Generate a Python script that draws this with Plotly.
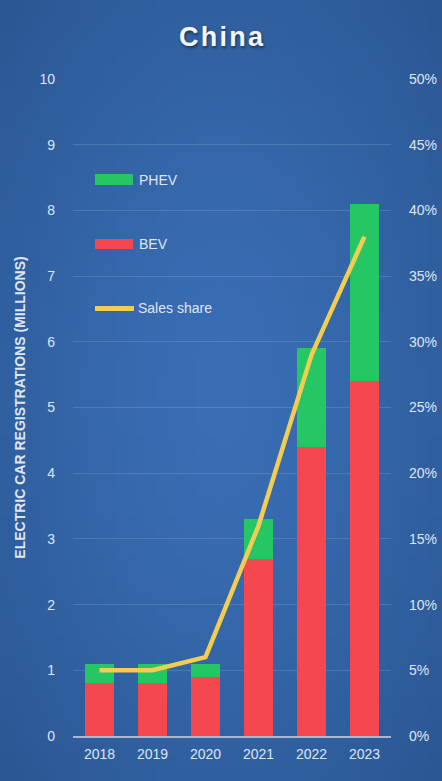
import plotly.graph_objects as go
import zlib, struct, base64, math

years = ["2018", "2019", "2020", "2021", "2022", "2023"]
bev = [0.8, 0.8, 0.9, 2.7, 4.4, 5.4]
phev = [0.3, 0.3, 0.2, 0.6, 1.5, 2.7]
sales_share = [5, 5, 6, 16, 29, 38]
left_ticks = list(range(0, 11))
right_ticks = list(range(0, 55, 5))

W, H = 442, 781
L, R, T, B = 73, 391, 79, 736

def fx(px):
    return (px - L) / (R - L)

def fy(py):
    return (B - py) / (B - T)

BEV_C = "#f4474f"
PHEV_C = "#25c765"
LINE_C = "#f3cd4f"
TXT = "#dfe6f2"


def gradient_png(w, h):
    inner = (0x3a, 0x6f, 0xb6)
    outer = (0x2b, 0x57, 0x93)
    rows = b""
    for j in range(h):
        row = b"\x00"
        for i in range(w):
            dx = (i + 0.5) / w - 0.5
            dy = (j + 0.5) / h - 0.5
            d = min(1.0, math.sqrt(dx * dx + dy * dy) / 0.707)
            t = d ** 1.3
            row += bytes(int(inner[k] + (outer[k] - inner[k]) * t) for k in range(3))
        rows += row

    def chunk(tag, data):
        c = struct.pack(">I", len(data)) + tag + data
        return c + struct.pack(">I", zlib.crc32(tag + data) & 0xffffffff)

    png = b"\x89PNG\r\n\x1a\n"
    png += chunk(b"IHDR", struct.pack(">IIBBBBB", w, h, 8, 2, 0, 0, 0))
    png += chunk(b"IDAT", zlib.compress(rows, 9))
    png += chunk(b"IEND", b"")
    return "data:image/png;base64," + base64.b64encode(png).decode()


fig = go.Figure()
fig.add_trace(go.Bar(x=years, y=bev, name="BEV", marker=dict(color=BEV_C, line=dict(width=0)), yaxis="y"))
fig.add_trace(go.Bar(x=years, y=phev, name="PHEV", marker=dict(color=PHEV_C, line=dict(width=0)), yaxis="y"))
fig.add_trace(go.Scatter(x=years, y=sales_share, name="Sales share", mode="lines",
                         line=dict(color=LINE_C, width=4.5), yaxis="y2"))

shapes = [
    dict(type="rect", xref="paper", yref="paper", x0=fx(95), x1=fx(133), y0=fy(185), y1=fy(174),
         fillcolor=PHEV_C, line=dict(width=0)),
    dict(type="rect", xref="paper", yref="paper", x0=fx(95), x1=fx(133), y0=fy(249), y1=fy(239),
         fillcolor=BEV_C, line=dict(width=0)),
    dict(type="line", xref="paper", yref="paper", x0=fx(95), x1=fx(134), y0=fy(308.5), y1=fy(308.5),
         line=dict(color=LINE_C, width=5)),
]
annotations = [
    dict(text="PHEV", xref="paper", yref="paper", x=fx(137), y=fy(179.5), xanchor="left", yanchor="middle",
         showarrow=False, font=dict(size=14, color=TXT, family="Liberation Sans, Arial")),
    dict(text="BEV", xref="paper", yref="paper", x=fx(137), y=fy(243.5), xanchor="left", yanchor="middle",
         showarrow=False, font=dict(size=14, color=TXT, family="Liberation Sans, Arial")),
    dict(text="Sales share", xref="paper", yref="paper", x=fx(136), y=fy(308), xanchor="left", yanchor="middle",
         showarrow=False, font=dict(size=14, color=TXT, family="Liberation Sans, Arial")),
]

images = [dict(source=gradient_png(44, 78), xref="paper", yref="paper",
               x=-L / (R - L), y=1 + T / (B - T), sizex=W / (R - L), sizey=H / (B - T),
               xanchor="left", yanchor="top", sizing="stretch", layer="below")]

fig.update_layout(
    width=W, height=H,
    margin=dict(l=L, r=W - R, t=T, b=H - B, autoexpand=False),
    paper_bgcolor="#3061a1",
    plot_bgcolor="rgba(0,0,0,0)",
    barmode="stack",
    bargap=0.47,
    showlegend=False,
    images=images,
    title=dict(text="<b>C\u200ah\u200ai\u200an\u200aa</b>", x=221 / W, xanchor="center", xref="container",
               y=1 - 37 / H, yanchor="middle", yref="container",
               font=dict(size=27, color="#f4f6fa", family="Liberation Sans, Arial",
                         shadow="1px 2px 3px rgba(0,0,0,0.45)")),
    font=dict(family="Liberation Sans, Arial", color=TXT, size=14),
    xaxis=dict(type="category", showgrid=False, showline=True, linecolor="#a9b8d2", linewidth=1.5,
               ticks="", tickfont=dict(size=14, color=TXT), ticklabelstandoff=4),
    yaxis=dict(range=[0, 10], tickvals=left_ticks, showgrid=True, gridcolor="rgba(255,255,255,0.13)",
               gridwidth=1, zeroline=False, ticks="", ticklabelstandoff=17,
               tickfont=dict(size=14, color=TXT),
               title=dict(text="<b>ELECTRIC CAR REGISTRATIONS (MILLIONS)</b>", standoff=10,
                          font=dict(size=14, color=TXT, family="Liberation Sans Narrow, Liberation Sans, Arial"))),
    yaxis2=dict(range=[0, 50], tickvals=right_ticks, ticktext=[f"{v}%" for v in right_ticks],
                overlaying="y", side="right", showgrid=False, zeroline=False, ticks="",
                ticklabelstandoff=17, tickfont=dict(size=14, color=TXT)),
    shapes=shapes,
    annotations=annotations,
)

fig.write_html("out.html")
